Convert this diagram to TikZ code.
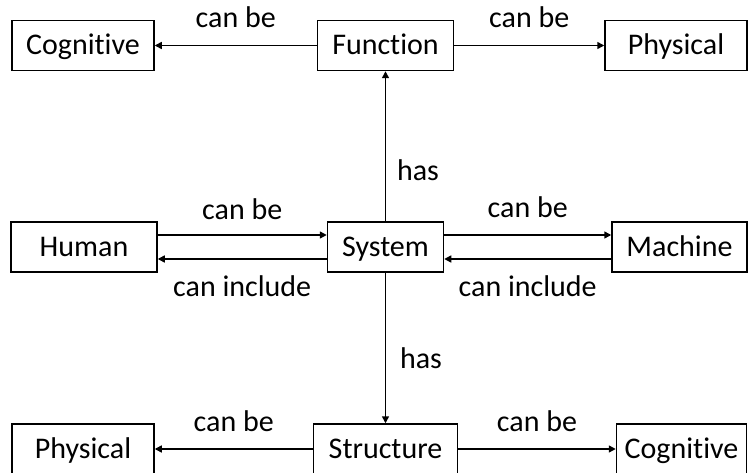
\documentclass[tikz,border=0pt]{standalone}
\usepackage{fontspec}
\setmainfont{Carlito}[Ligatures=NoCommon]
\usetikzlibrary{arrows.meta, calc}
\tikzset{
  >={Triangle[length=7pt, width=7pt]},
  box/.style={draw, line width=1.5pt, minimum height=50pt, inner sep=0pt, text height=25pt, text depth=6pt, font=\fontsize{30}{36}\selectfont},
  lbl/.style={anchor=base, inner sep=0pt, font=\fontsize{30}{36}\selectfont},
  link/.style={->, line width=1.5pt},
}

\begin{document}
\begin{tikzpicture}[x=1pt, y=-1pt]
  \useasboundingbox (0,0) rectangle (749,473);

  \node[box, minimum width=142pt] (cog1) at (83,45.5) {Cognitive};
  \node[box, minimum width=136pt] (func) at (385.5,45.5) {Function};
  \node[box, minimum width=142pt] (phys1) at (676,45.5) {Physical};
  \node[box, minimum width=146pt] (hum) at (84,247) {Human};
  \node[box, minimum width=116pt] (sys) at (385.5,247) {System};
  \node[box, minimum width=135pt] (mach) at (679.5,247) {Machine};
  \node[box, minimum width=142pt] (phys2) at (83,449) {Physical};
  \node[box, minimum width=144pt] (struc) at (385.5,449) {Structure};
  \node[box, minimum width=130pt] (cog2) at (681.5,449) {Cognitive};

  \draw[link] (func) -- (cog1) node[lbl, midway, yshift=18pt] {can be};
  \draw[link] (func) -- (phys1) node[lbl, midway, yshift=18pt] {can be};
  \draw[link] (sys) -- (func) node[lbl, midway, xshift=32.5pt, yshift=-34pt] {has};
  \draw[link] (sys) -- (struc) node[lbl, midway, xshift=35.5pt, yshift=-20pt] {has};

  \draw[link] ($(hum.east)+(0,-12)$) -- ($(sys.west)+(0,-12)$) node[lbl, midway, yshift=16pt] {can be};
  \draw[link] ($(sys.west)+(0,12)$) -- ($(hum.east)+(0,12)$) node[lbl, midway, yshift=-37pt] {can include};
  \draw[link] ($(sys.east)+(0,-12)$) -- ($(mach.west)+(0,-12)$) node[lbl, midway, yshift=17pt] {can be};
  \draw[link] ($(mach.west)+(0,12)$) -- ($(sys.east)+(0,12)$) node[lbl, midway, yshift=-37pt] {can include};

  \draw[link] (struc) -- (phys2) node[lbl, midway, yshift=18pt] {can be};
  \draw[link] (struc) -- (cog2) node[lbl, midway, yshift=18pt] {can be};
\end{tikzpicture}
\end{document}
